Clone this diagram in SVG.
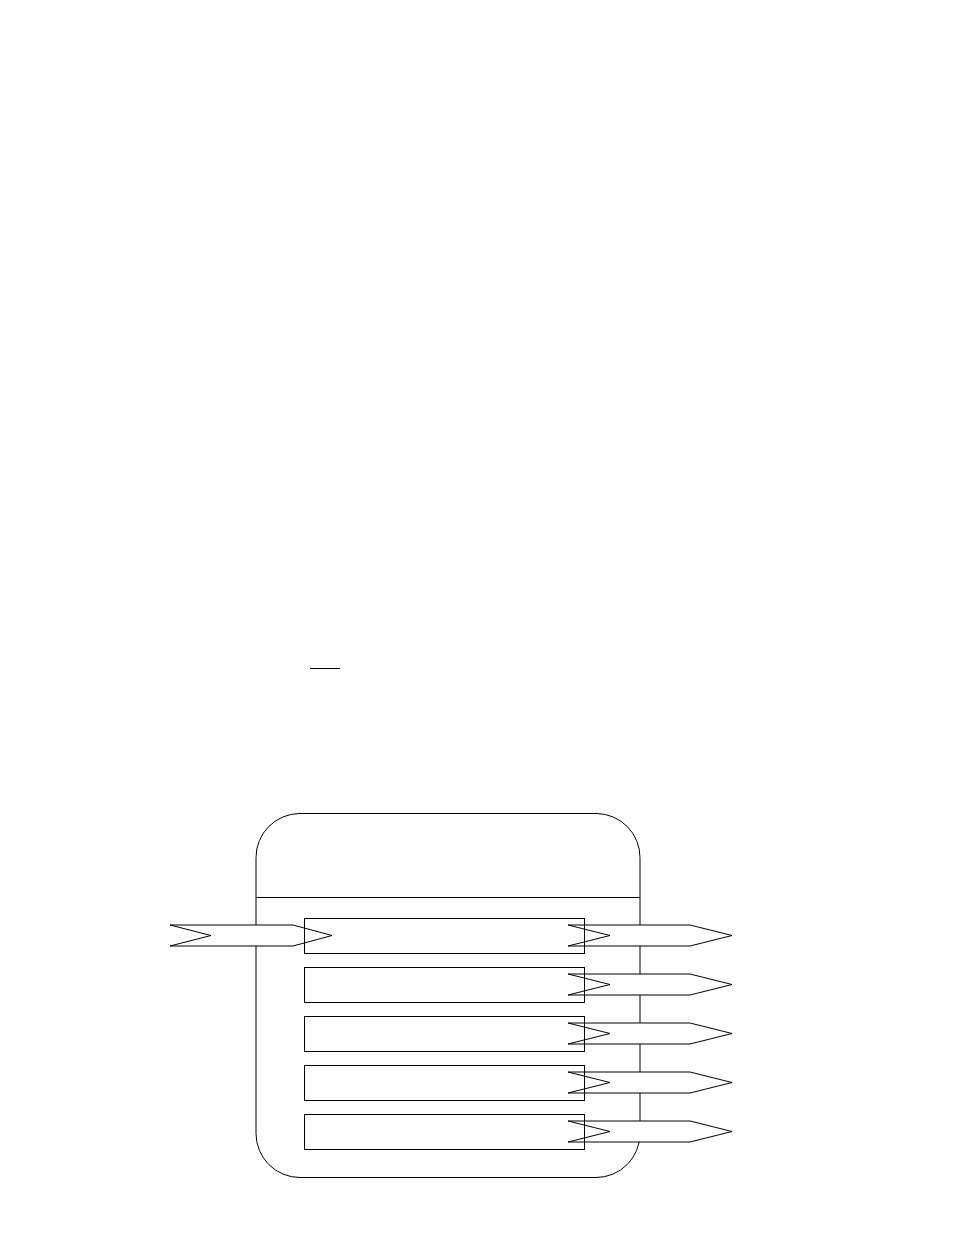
<svg xmlns="http://www.w3.org/2000/svg" width="954" height="1235" viewBox="0 0 954 1235">
<style>
.s{fill:none;stroke:#000;stroke-width:1}
.a{fill:#fff;stroke:#000;stroke-width:1;stroke-linejoin:miter}
</style>
<defs>
<path id="outArrow" d="M568,925 L690,925 L732,935.5 L690,946 L568,946 L610,935.5 Z"/>
</defs>
<rect width="954" height="1235" fill="#fff"/>
<line id="mark" class="s" x1="310" y1="668.5" x2="340" y2="668.5"/>
<g id="container">
<rect class="s" x="256" y="813.5" width="384" height="364" rx="44" ry="44"/>
<line class="s" x1="256" y1="897.5" x2="640" y2="897.5"/>
</g>
<g id="connectors">
<path id="in" class="a" d="M170,925 L293,925 L332,935.5 L293,946 L170,946 L211,935.5 Z"/>
<use id="out1" href="#outArrow" class="a"/>
<use id="out2" href="#outArrow" class="a" y="49"/>
<use id="out3" href="#outArrow" class="a" y="98"/>
<use id="out4" href="#outArrow" class="a" y="147"/>
<use id="out5" href="#outArrow" class="a" y="196"/>
</g>
<g id="box1"><rect class="s" x="304.5" y="918.5" width="280" height="35"/></g>
<g id="box2"><rect class="s" x="304.5" y="967.5" width="280" height="35"/></g>
<g id="box3"><rect class="s" x="304.5" y="1016.5" width="280" height="35"/></g>
<g id="box4"><rect class="s" x="304.5" y="1065.5" width="280" height="35"/></g>
<g id="box5"><rect class="s" x="304.5" y="1114.5" width="280" height="35"/></g>
</svg>
